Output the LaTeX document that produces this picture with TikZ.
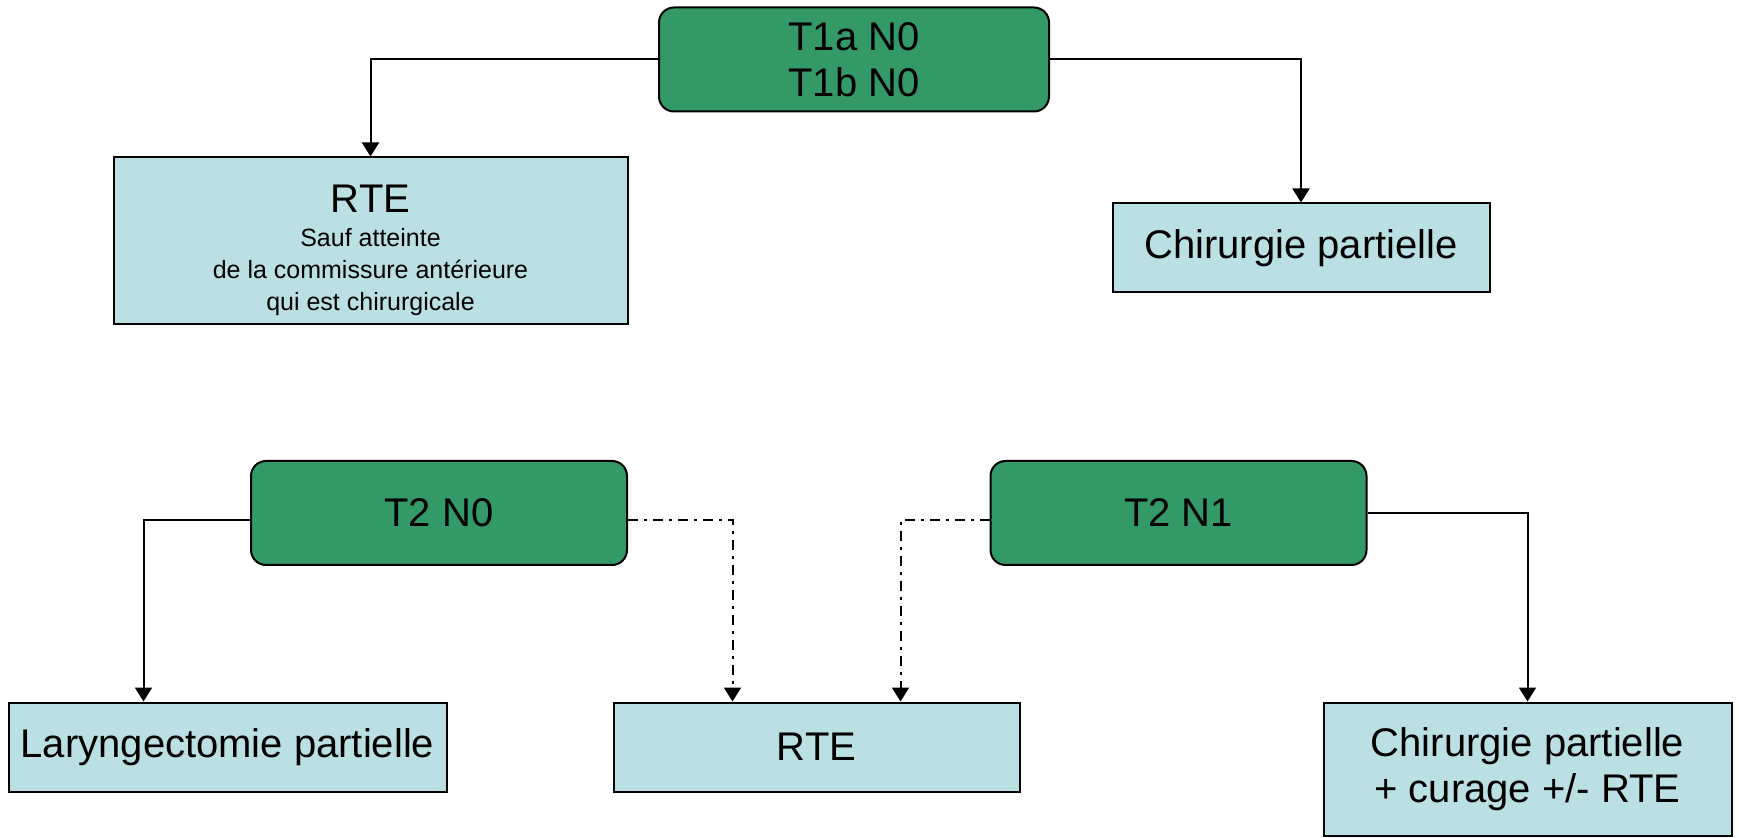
\documentclass[tikz,border=0pt]{standalone}
\usepackage{fontspec}
\setmainfont{Liberation Sans}
\usepackage{tikz}
\usetikzlibrary{arrows.meta, positioning}
\definecolor{stadevert}{RGB}{51,153,102}
\definecolor{traitbleu}{RGB}{187,224,227}
\newcommand{\petit}{\fontsize{12.5}{16}\selectfont}

\begin{document}
\begin{tikzpicture}[x=0.5pt, y=-0.5pt,
            stade/.style={draw, line width=1pt, rounded corners=7.5pt, fill=stadevert, align=center,
                font=\fontsize{20}{23}\selectfont, minimum width=188pt, minimum height=52pt},
            traitement/.style={draw, line width=1pt, rectangle, fill=traitbleu, align=center,
                font=\fontsize{20}{23}\selectfont, minimum height=44.5pt},
            fleche/.style={-{Triangle[width=8.5pt, length=7pt]}, line width=1pt},
            option/.style={fleche, dash pattern=on 5pt off 3pt on 1.5pt off 3pt}]
            \useasboundingbox (0,0) rectangle (1739,838);

            % T1
            \node[stade, minimum width=195pt] (t1) at (854,59.5) {T1a N0\\T1b N0};
            \node[traitement, minimum width=257pt, minimum height=83.5pt] (rte1) at (370.5,241)
                {\rule{0pt}{23.5pt}RTE\\[-6pt]\petit Sauf atteinte\\[-7pt]\petit de la commissure antérieure\\[-7pt]\petit qui est chirurgicale};
            \node[traitement, minimum width=188.5pt] (chir1) at (1301,248) {Chirurgie partielle};

            % T2
            \node[stade] (t2n0) at (439,513) {T2 N0};
            \node[stade] (t2n1) at (1178.5,513) {T2 N1};
            \node[traitement, minimum width=219pt] (laryng) at (227.5,747) {Laryngectomie partielle};
            \node[traitement, minimum width=203pt] (rte2) at (816.5,747) {RTE};
            \node[traitement, minimum width=204pt, minimum height=66.5pt] (chir2) at (1527.5,769)
                {Chirurgie partielle\\+ curage +/- RTE};

            \draw[fleche] (t1) -| (rte1);
            \draw[fleche] (t1) -| (chir1);
            \draw[fleche] ([yshift=-3.5pt]t2n0.west) -| ([xshift=-42pt]laryng.north);
            \draw[option] ([yshift=-3.5pt]t2n0.east) -| ([xshift=-42pt]rte2.north);
            \draw[option] ([yshift=-3.5pt]t2n1.west) -| ([xshift=42pt]rte2.north);
            \draw[fleche] (t2n1) -| (chir2);
        \end{tikzpicture}
\end{document}
